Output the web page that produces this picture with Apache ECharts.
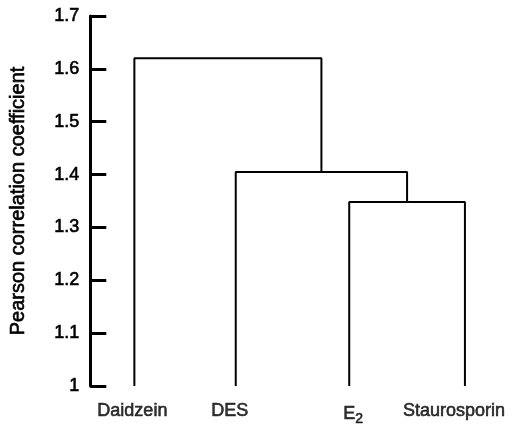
<!DOCTYPE html>
<html>
<head>
<meta charset="utf-8">
<style>html,body{margin:0;padding:0;background:#fff;}#c{width:517px;height:424px;}</style>
<script src="https://cdn.jsdelivr.net/npm/echarts@6/dist/echarts.min.js"></script>
</head>
<body>
<div id="c"></div>
<script>
// Leaves (left to right) and their horizontal slot positions
const leaves = ['Daidzein', 'DES', 'E2', 'Staurosporin'];
const leafPos = [0, 0.92, 1.95, 3.0];
// Linkage: [childA, childB, mergeHeight]; ids >= leaves.length are earlier merges
const mergeA = [2, 1, 0];
const mergeB = [3, 4, 5];
const mergeHeight = [1.348, 1.405, 1.62];
const yTicks = [1, 1.1, 1.2, 1.3, 1.4, 1.5, 1.6, 1.7];
const baseValue = 1;
// horizontal nudge (px) of each leaf label, style only
const labelNudge = [-2, -6, 4, -11];

const nodeX = leafPos.slice();
const nodeY = leaves.map(() => baseValue);
const linkSeries = [];
for (let i = 0; i < mergeHeight.length; i++) {
  const a = mergeA[i], b = mergeB[i], h = mergeHeight[i];
  linkSeries.push({
    type: 'line', symbol: 'none', silent: true, animation: false,
    lineStyle: { color: '#000', width: 2 },
    data: [[nodeX[a], nodeY[a]], [nodeX[a], h], [nodeX[b], h], [nodeX[b], nodeY[b]]]
  });
  nodeX.push((nodeX[a] + nodeX[b]) / 2);
  nodeY.push(h);
}

const font = '"Liberation Sans", Arial, sans-serif';
const heavy = { color: '#000', textBorderColor: '#000', textBorderWidth: 0.6 };
const chart = echarts.init(document.getElementById('c'), null, { renderer: 'canvas' });
chart.setOption({
  animation: false,
  backgroundColor: '#fff',
  grid: { left: 90, right: 8, top: 16, bottom: 38 },
  xAxis: {
    type: 'value', min: -0.4, max: 3.4,
    show: false
  },
  yAxis: {
    type: 'value', min: yTicks[0], max: yTicks[yTicks.length - 1], interval: 0.1,
    name: 'Pearson correlation coefficient',
    nameLocation: 'middle', nameGap: 62,
    nameTextStyle: Object.assign({ fontFamily: font, fontSize: 20 }, heavy),
    axisLine: { show: true, onZero: false, lineStyle: { color: '#000', width: 3 } },
    axisTick: { show: true, inside: true, length: 16, lineStyle: { color: '#000', width: 3 } },
    axisLabel: Object.assign({ fontFamily: font, fontSize: 18, margin: 11,
      formatter: v => String(Math.round(v * 10) / 10) }, heavy),
    splitLine: { show: false }
  },
  series: linkSeries.concat([{
    type: 'scatter', symbolSize: 0, silent: true, animation: false,
    data: leaves.map((n, i) => ({ value: [leafPos[i], baseValue], name: n,
      label: { offset: [labelNudge[i], 0] } })),
    label: Object.assign({
      show: true, position: 'bottom', distance: 16,
      fontFamily: font, fontSize: 18,
      formatter: p => p.name === 'E2' ? 'E{sub|2}' : p.name,
      rich: { sub: Object.assign({ fontFamily: font, fontSize: 14, verticalAlign: 'bottom', padding: [10, 0, 0, 0] }, heavy) }
    }, heavy)
  }])
});
</script>
</body>
</html>
